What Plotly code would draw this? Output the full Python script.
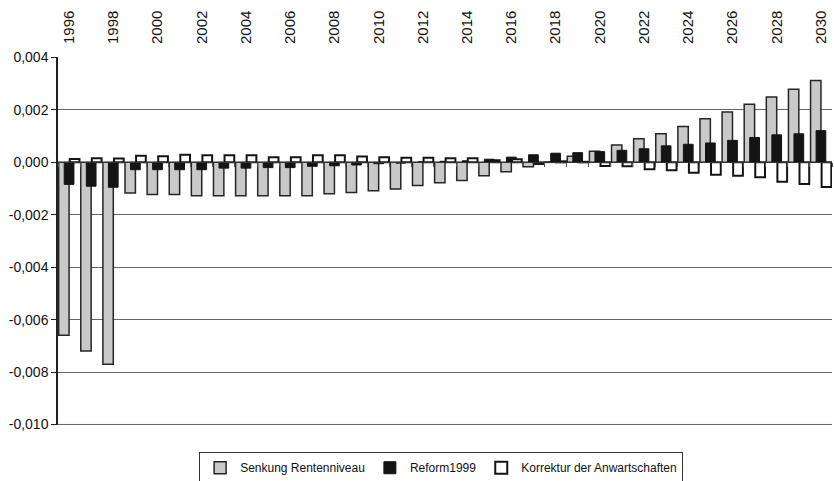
import plotly.graph_objects as go

years = [1996, 1997, 1998, 1999, 2000, 2001, 2002, 2003, 2004, 2005, 2006, 2007,
         2008, 2009, 2010, 2011, 2012, 2013, 2014, 2015, 2016, 2017, 2018, 2019,
         2020, 2021, 2022, 2023, 2024, 2025, 2026, 2027, 2028, 2029, 2030]

senkung_rentenniveau = [-0.0066, -0.0072, -0.0077, -0.00117, -0.00123, -0.00123, -0.00127,
                        -0.00127, -0.00127, -0.00127, -0.00127, -0.00127, -0.0012, -0.00115,
                        -0.00108, -0.00102, -0.00088, -0.00078, -0.00069, -0.00051, -0.00036,
                        -0.00017, 0.00002, 0.00023, 0.00042, 0.00066, 0.0009, 0.00109,
                        0.00137, 0.00166, 0.00192, 0.00222, 0.00249, 0.00279, 0.00312]

reform1999 = [-0.00084, -0.00091, -0.00095, -0.00028, -0.00028, -0.00028, -0.00028,
              -0.00022, -0.00022, -0.0002, -0.0002, -0.00015, -0.00013, -0.0001,
              -0.00005, -0.00003, 0.00002, 0.00004, 0.00006, 0.00012, 0.0002,
              0.00029, 0.00035, 0.00037, 0.00041, 0.00046, 0.00052, 0.00063,
              0.00069, 0.00074, 0.00084, 0.00095, 0.00105, 0.00109, 0.00121]

korrektur_anwartschaften = [0.00013, 0.00016, 0.00015, 0.00025, 0.00023, 0.00029, 0.00027,
                            0.00027, 0.00027, 0.0002, 0.0002, 0.00027, 0.00027, 0.00022,
                            0.0002, 0.00018, 0.00018, 0.00016, 0.00016, 0.00008, 0.00012,
                            -0.00006, 0.00004, 0.00002, -0.00014, -0.00015, -0.00026, -0.0003,
                            -0.0004, -0.00047, -0.00051, -0.00057, -0.00074, -0.00083, -0.00094]

series_names = ["Senkung Rentenniveau", "Reform1999", "Korrektur der Anwartschaften"]

y_tick_values = [0.004, 0.002, 0.0, -0.002, -0.004, -0.006, -0.008, -0.010]
y_tick_labels = ["0,004", "0,002", "0,000", "-0,002", "-0,004", "-0,006", "-0,008", "-0,010"]

x_label_years = [1996, 1998, 2000, 2002, 2004, 2006, 2008, 2010, 2012, 2014, 2016,
                 2018, 2020, 2022, 2024, 2026, 2028, 2030]
x_boundaries = [y - 0.5 for y in years] + [years[-1] + 0.5]

fig = go.Figure()
fig.add_trace(go.Bar(x=years, y=senkung_rentenniveau, name=series_names[0],
                     width=0.47, offset=-0.47,
                     marker=dict(color="#c9c9c9", line=dict(color="#262626", width=1.5))))
fig.add_trace(go.Bar(x=years, y=reform1999, name=series_names[1],
                     width=0.44, offset=-0.22,
                     marker=dict(color="#141414", line=dict(color="#141414", width=1))))
fig.add_trace(go.Bar(x=years, y=korrektur_anwartschaften, name=series_names[2],
                     width=0.44, offset=0.03,
                     marker=dict(color="#ffffff", line=dict(color="#141414", width=2))))
# invisible helper trace carrying the top year labels axis
fig.add_trace(go.Scatter(x=years, y=senkung_rentenniveau, xaxis="x2", mode="markers",
                         marker=dict(opacity=0), showlegend=False, hoverinfo="skip"))

font_family = "Liberation Sans, Arial, sans-serif"

fig.update_layout(
    width=834, height=481,
    margin=dict(l=58, r=2, t=57, b=56, autoexpand=False),
    paper_bgcolor="white", plot_bgcolor="white",
    barmode="overlay",
    font=dict(family=font_family, size=13, color="#111111"),
    showlegend=True,
    legend=dict(orientation="h", x=0.495, xanchor="center", y=-0.074, yanchor="top",
                bordercolor="#333333", borderwidth=1, font=dict(size=12),
                itemwidth=30, traceorder="normal"),
    xaxis=dict(range=[1995.5, 2030.5], anchor="free", position=0.7143,
               showline=True, linecolor="#333333", linewidth=1,
               tickmode="array", tickvals=x_boundaries, ticks="outside",
               ticklen=4, tickcolor="#555555", showticklabels=False,
               showgrid=False, zeroline=False, automargin=False),
    xaxis2=dict(range=[1995.5, 2030.5], overlaying="x", side="top", anchor="y",
                tickmode="array", tickvals=x_label_years,
                ticktext=[str(v) for v in x_label_years],
                tickangle=-90, ticks="", showline=False, showgrid=False,
                zeroline=False, tickfont=dict(size=15), ticklabelstandoff=12,
                automargin=False),
    yaxis=dict(range=[-0.01002, 0.00402], tickmode="array", tickvals=y_tick_values,
               ticktext=y_tick_labels, ticks="outside", ticklen=5, tickcolor="#222222",
               showline=True, linecolor="#222222", linewidth=1.5,
               showgrid=True, gridcolor="#666666", gridwidth=1, zeroline=False,
               tickfont=dict(size=14), automargin=False),
)
# bottom gridline (Plotly hides the edge gridline)
fig.add_shape(type="line", xref="paper", yref="y", x0=0, x1=1,
              y0=y_tick_values[-1], y1=y_tick_values[-1],
              line=dict(color="#666666", width=1), layer="below")

fig.write_html("out.html", config={"displayModeBar": False},
               post_script="document.body.style.margin='0px';document.body.style.overflow='hidden';")
